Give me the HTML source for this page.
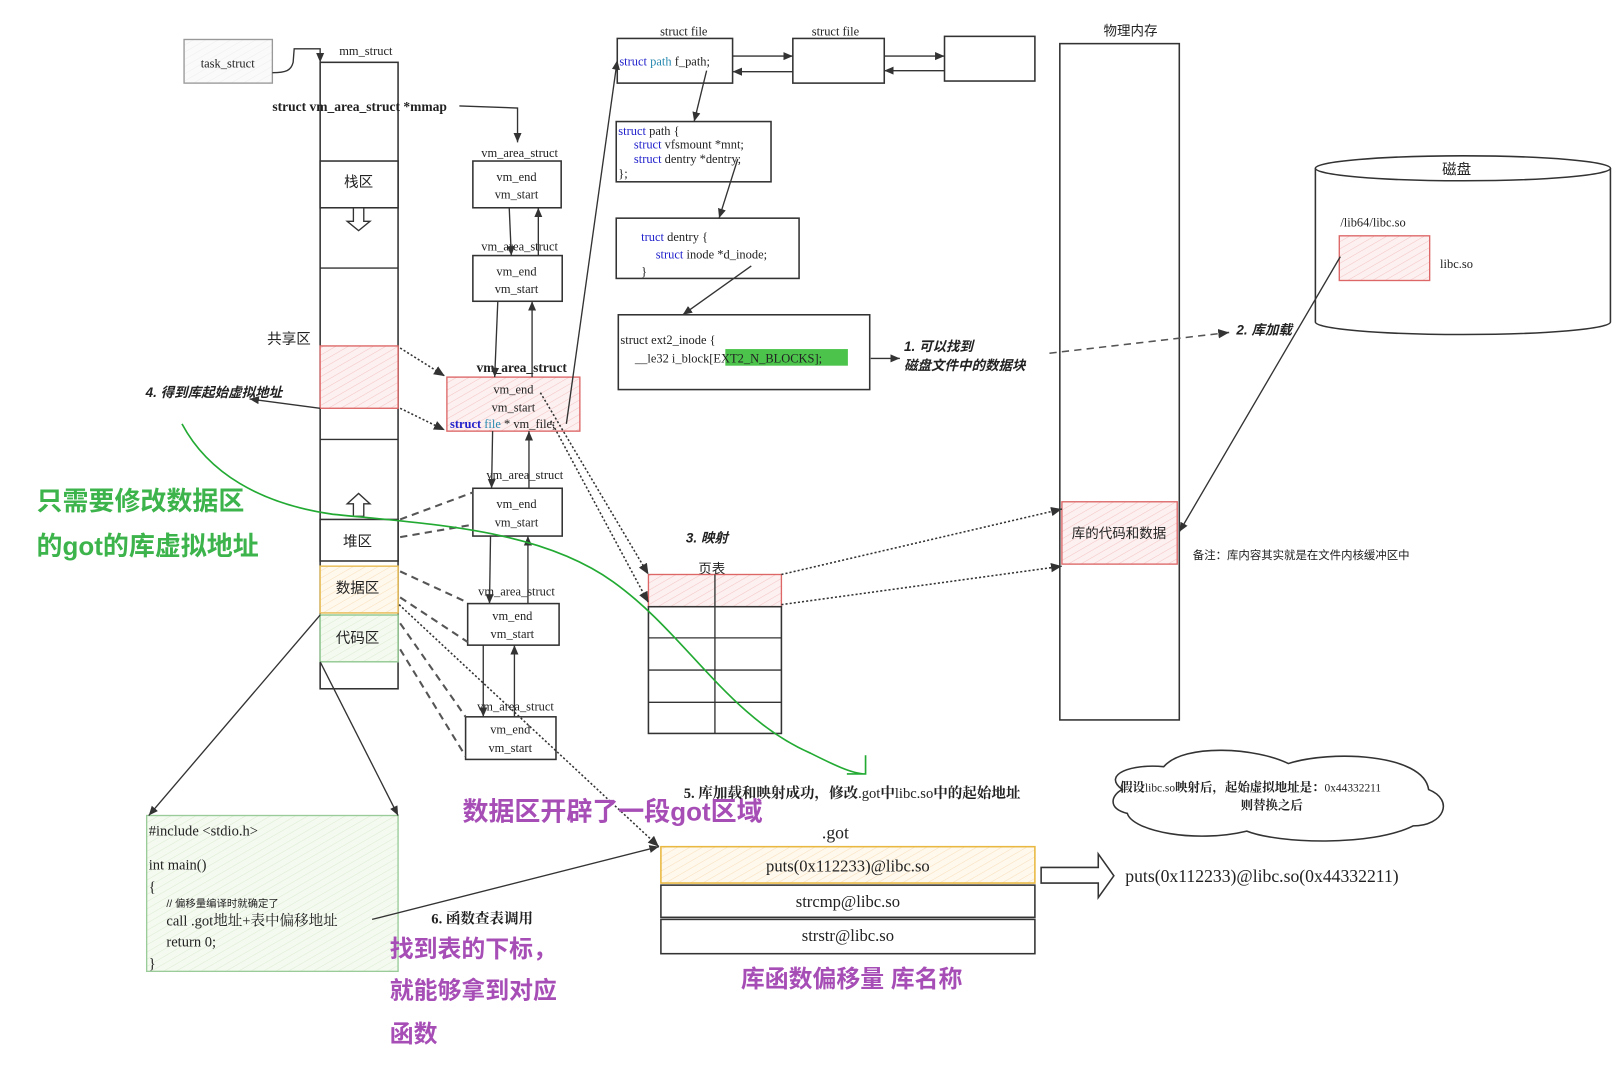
<!DOCTYPE html>
<html><head><meta charset="utf-8"><style>
html,body{margin:0;padding:0;background:#fff;}
svg{display:block}
text{font-family:"Liberation Serif","Noto Serif CJK SC","Noto Sans CJK SC",serif;fill:#222}
.s{font-family:"Liberation Sans","Noto Sans CJK SC",sans-serif}
.b{font-weight:bold}
.i{font-style:italic}
.box{fill:#fff;stroke:#333;stroke-width:1.5}
.ln{stroke:#333;stroke-width:1.3;fill:none}
.dot{stroke:#333;stroke-width:1.5;fill:none;stroke-dasharray:2 2}
.dash{stroke:#555;stroke-width:2;fill:none;stroke-dasharray:7 5}
</style></head><body>
<svg width="1621" height="1069" viewBox="0 0 1560 1029" xmlns="http://www.w3.org/2000/svg">
<defs>
<marker id="a" markerWidth="8" markerHeight="8" refX="7" refY="4" orient="auto"><path d="M0,1 L7,4 L0,7 z" fill="#333"/></marker>
<pattern id="hr" width="6" height="6" patternUnits="userSpaceOnUse" patternTransform="rotate(60)"><rect width="6" height="6" fill="#fdf0f0"/><line x1="0" y1="0" x2="0" y2="6" stroke="#f3c4c4" stroke-width="1"/></pattern>
<pattern id="hy" width="6" height="6" patternUnits="userSpaceOnUse" patternTransform="rotate(60)"><rect width="6" height="6" fill="#fff8ec"/><line x1="0" y1="0" x2="0" y2="6" stroke="#f8e0bc" stroke-width="1"/></pattern>
<pattern id="hg" width="6" height="6" patternUnits="userSpaceOnUse" patternTransform="rotate(60)"><rect width="6" height="6" fill="#f4faf0"/><line x1="0" y1="0" x2="0" y2="6" stroke="#dcebd2" stroke-width="1"/></pattern>
<pattern id="hk" width="6" height="6" patternUnits="userSpaceOnUse" patternTransform="rotate(60)"><rect width="6" height="6" fill="#fafafa"/><line x1="0" y1="0" x2="0" y2="6" stroke="#eee" stroke-width="1"/></pattern>
</defs>

<!-- task_struct -->
<rect x="177" y="38" width="85" height="42" fill="url(#hk)" stroke="#999" stroke-width="1.3"/>
<text x="219" y="65" font-size="12" text-anchor="middle" fill="#555">task_struct</text>
<path class="ln" d="M262,70 C275,70 280,68 282,60 L283,47 L308,47 L308,60" marker-end="url(#a)"/>
<text x="352" y="53" font-size="12" text-anchor="middle">mm_struct</text>

<!-- mm column -->
<rect class="box" x="308" y="60" width="75" height="603"/>
<rect class="box" x="308" y="155" width="75" height="45"/>
<text x="345" y="180" font-size="14" text-anchor="middle" class="s">栈区</text>
<path d="M340,200 L350,200 L350,213 L356,213 L345,222 L334,213 L340,213 z" fill="#fff" stroke="#333" stroke-width="1.3"/>
<line class="ln" x1="308" y1="258" x2="383" y2="258"/>
<text x="278" y="331" font-size="14" text-anchor="middle" class="s">共享区</text>
<rect x="308" y="333" width="75" height="60" fill="url(#hr)" stroke="#d66" stroke-width="1.3"/>
<line class="ln" x1="308" y1="423" x2="383" y2="423"/>
<path d="M340,497 L350,497 L350,485 L356,485 L345,475 L334,485 L340,485 z" fill="#fff" stroke="#333" stroke-width="1.3"/>
<rect class="box" x="308" y="500" width="75" height="40"/>
<text x="344" y="526" font-size="14" text-anchor="middle" class="s">堆区</text>
<rect x="308" y="545" width="75" height="45" fill="url(#hy)" stroke="#e8c060" stroke-width="1.5"/>
<text x="344" y="571" font-size="14" text-anchor="middle" class="s">数据区</text>
<rect x="308" y="592" width="75" height="45" fill="url(#hg)" stroke="#9c9" stroke-width="1.5"/>
<text x="344" y="619" font-size="14" text-anchor="middle" class="s">代码区</text>

<text x="346" y="107" font-size="13" text-anchor="middle" class="b">struct vm_area_struct *mmap</text>
<path class="ln" d="M442,102 L498,104 L498,137" marker-end="url(#a)"/>

<!-- vm_area_struct chain -->
<text x="500" y="151" font-size="12" text-anchor="middle">vm_area_struct</text>
<rect class="box" x="455" y="155" width="85" height="45"/>
<text x="497" y="174" font-size="12" text-anchor="middle">vm_end</text>
<text x="497" y="191" font-size="12" text-anchor="middle">vm_start</text>
<text x="500" y="241" font-size="12" text-anchor="middle">vm_area_struct</text>
<rect class="box" x="455" y="246" width="86" height="44"/>
<text x="497" y="265" font-size="12" text-anchor="middle">vm_end</text>
<text x="497" y="282" font-size="12" text-anchor="middle">vm_start</text>
<line class="ln" x1="490" y1="200" x2="492" y2="246" marker-end="url(#a)"/>
<line class="ln" x1="518" y1="246" x2="518" y2="200" marker-end="url(#a)"/>

<text x="502" y="358" font-size="13" text-anchor="middle" class="b">vm_area_struct</text>
<rect x="430" y="363" width="128" height="52" fill="url(#hr)" stroke="#d66" stroke-width="1.3"/>
<text x="494" y="379" font-size="12" text-anchor="middle">vm_end</text>
<text x="494" y="396" font-size="12" text-anchor="middle">vm_start</text>
<text x="433" y="412" font-size="12"><tspan fill="#22c" font-weight="bold">struct</tspan> <tspan fill="#2a8ab0">file</tspan> * vm_file;</text>
<line class="ln" x1="479" y1="290" x2="476" y2="363" marker-end="url(#a)"/>
<line class="ln" x1="512" y1="363" x2="512" y2="290" marker-end="url(#a)"/>

<text x="505" y="461" font-size="12" text-anchor="middle">vm_area_struct</text>
<rect class="box" x="455" y="470" width="86" height="46"/>
<text x="497" y="489" font-size="12" text-anchor="middle">vm_end</text>
<text x="497" y="507" font-size="12" text-anchor="middle">vm_start</text>
<line class="ln" x1="474" y1="415" x2="473" y2="470" marker-end="url(#a)"/>
<line class="ln" x1="509" y1="470" x2="509" y2="415" marker-end="url(#a)"/>

<text x="497" y="573" font-size="12" text-anchor="middle">vm_area_struct</text>
<rect class="box" x="450" y="581" width="88" height="40"/>
<text x="493" y="597" font-size="12" text-anchor="middle">vm_end</text>
<text x="493" y="614" font-size="12" text-anchor="middle">vm_start</text>
<line class="ln" x1="472" y1="516" x2="471" y2="581" marker-end="url(#a)"/>
<line class="ln" x1="508" y1="581" x2="508" y2="516" marker-end="url(#a)"/>

<text x="496" y="684" font-size="12" text-anchor="middle">vm_area_struct</text>
<rect class="box" x="448" y="690" width="87" height="41"/>
<text x="491" y="706" font-size="12" text-anchor="middle">vm_end</text>
<text x="491" y="724" font-size="12" text-anchor="middle">vm_start</text>
<line class="ln" x1="465" y1="621" x2="465" y2="690" marker-end="url(#a)"/>
<line class="ln" x1="495" y1="690" x2="495" y2="621" marker-end="url(#a)"/>

<!-- dashed mapping lines from column -->
<path class="dot" d="M385,335 L428,362" marker-end="url(#a)"/>
<path class="dot" d="M385,393 L428,414" marker-end="url(#a)"/>
<path class="dash" d="M385,500 L455,474"/>
<path class="dash" d="M385,517 L455,505"/>
<path class="dash" d="M385,550 L450,580"/>
<path class="dash" d="M385,575 L450,618"/>
<path class="dash" d="M385,600 L448,690"/>
<path class="dash" d="M385,625 L448,728"/>

<!-- struct file -->
<text x="658" y="34" font-size="12" text-anchor="middle">struct file</text>
<rect class="box" x="594" y="37" width="111" height="43"/>
<text x="596" y="63" font-size="12"><tspan fill="#22c">struct</tspan> <tspan fill="#2a8ab0">path</tspan> f_path;</text>
<text x="804" y="34" font-size="12" text-anchor="middle">struct file</text>
<rect class="box" x="763" y="37" width="88" height="43"/>
<rect class="box" x="909" y="35" width="87" height="43"/>
<line class="ln" x1="705" y1="54" x2="763" y2="54" marker-end="url(#a)"/>
<line class="ln" x1="763" y1="69" x2="705" y2="69" marker-end="url(#a)"/>
<line class="ln" x1="851" y1="54" x2="909" y2="54" marker-end="url(#a)"/>
<line class="ln" x1="909" y1="68" x2="851" y2="68" marker-end="url(#a)"/>
<line class="ln" x1="545" y1="408" x2="594" y2="58" marker-end="url(#a)"/>

<rect class="box" x="593" y="117" width="149" height="58"/>
<text x="595" y="130" font-size="12"><tspan fill="#22c">struct</tspan> path {</text>
<text x="610" y="143" font-size="12"><tspan fill="#22c">struct</tspan> vfsmount *mnt;</text>
<text x="610" y="157" font-size="12"><tspan fill="#22c">struct</tspan> dentry *dentry;</text>
<text x="595" y="171" font-size="12">};</text>
<line class="ln" x1="680" y1="68" x2="668" y2="117" marker-end="url(#a)"/>

<rect class="box" x="593" y="210" width="176" height="58"/>
<text x="617" y="232" font-size="12"><tspan fill="#22c">truct</tspan> dentry {</text>
<text x="631" y="249" font-size="12"><tspan fill="#22c">struct</tspan> inode *d_inode;</text>
<text x="617" y="265" font-size="12" fill="#3a3">}</text>
<line class="ln" x1="710" y1="153" x2="692" y2="210" marker-end="url(#a)"/>

<rect class="box" x="595" y="303" width="242" height="72"/>
<text x="597" y="331" font-size="12">struct ext2_inode {</text>
<rect x="698" y="336" width="118" height="16" fill="#4cc44c"/>
<text x="611" y="349" font-size="12">__le32  i_block[EXT2_N_BLOCKS];</text>
<line class="ln" x1="723" y1="256" x2="657" y2="303" marker-end="url(#a)"/>

<line class="ln" x1="838" y1="345" x2="866" y2="345" marker-end="url(#a)"/>
<text x="870" y="338" font-size="13" class="s b i">1. 可以找到</text>
<text x="870" y="356" font-size="13" class="s b i">磁盘文件中的数据块</text>

<!-- physical memory -->
<text x="1088" y="34" font-size="13" text-anchor="middle" class="s">物理内存</text>
<rect class="box" x="1020" y="42" width="115" height="651"/>
<rect x="1022" y="483" width="111" height="60" fill="url(#hr)" stroke="#d66" stroke-width="1.3"/>
<text x="1077" y="518" font-size="13" text-anchor="middle" class="s">库的代码和数据</text>
<text x="1148" y="538" font-size="11" class="s">备注：库内容其实就是在文件内核缓冲区中</text>
<path class="dash" style="stroke-width:1.5" d="M1010,340 L1183,320" marker-end="url(#a)"/>
<text x="1190" y="322" font-size="13" class="s b i">2. 库加载</text>

<!-- disk -->
<path d="M1266,162 L1266,310 A142,12 0 0 0 1550,310 L1550,162" fill="#fff" stroke="#333" stroke-width="1.5"/>
<ellipse cx="1408" cy="162" rx="142" ry="12" fill="#fff" stroke="#333" stroke-width="1.5"/>
<text x="1402" y="168" font-size="14" text-anchor="middle" class="s">磁盘</text>
<text x="1290" y="218" font-size="12">/lib64/libc.so</text>
<rect x="1289" y="227" width="87" height="43" fill="url(#hr)" stroke="#d66" stroke-width="1.3"/>
<text x="1386" y="258" font-size="12">libc.so</text>
<line class="ln" x1="1290" y1="247" x2="1135" y2="512" marker-end="url(#a)"/>

<!-- page table -->
<text x="660" y="522" font-size="13" class="s b i">3. 映射</text>
<text x="685" y="552" font-size="13" text-anchor="middle" class="s">页表</text>
<rect x="624" y="553" width="128" height="31" fill="url(#hr)" stroke="#d66" stroke-width="1.3"/>
<rect class="box" x="624" y="584" width="128" height="122" fill="none"/>
<line class="ln" x1="688" y1="553" x2="688" y2="706"/>
<line class="ln" x1="624" y1="614" x2="752" y2="614"/>
<line class="ln" x1="624" y1="645" x2="752" y2="645"/>
<line class="ln" x1="624" y1="676" x2="752" y2="676"/>
<path class="dot" d="M752,553 L1022,490" marker-end="url(#a)"/>
<path class="dot" d="M752,582 L1022,545" marker-end="url(#a)"/>
<path class="dot" d="M520,378 L624,553" marker-end="url(#a)"/>
<path class="dot" d="M530,405 L624,580" marker-end="url(#a)"/>
<path class="dot" d="M384,582 L634,815" marker-end="url(#a)"/>

<!-- green curve -->
<path d="M175,408 C200,455 250,485 320,495 C420,505 520,510 590,560 C660,610 700,690 780,725 C800,735 820,745 833,745 L833,727 M833,745 L815,745" fill="none" stroke="#22aa33" stroke-width="1.6"/>
<text x="35" y="491" font-size="25" class="s b" style="fill:#3cb44b">只需要修改数据区</text>
<text x="35" y="534" font-size="25" class="s b" style="fill:#3cb44b">的got的库虚拟地址</text>

<text x="140" y="382" font-size="13" class="s b i">4. 得到库起始虚拟地址</text>
<line class="ln" x1="308" y1="393" x2="240" y2="384" marker-end="url(#a)"/>

<!-- code box -->
<rect x="141" y="785" width="242" height="150" fill="url(#hg)" stroke="#9c9" stroke-width="1.3"/>
<line class="ln" x1="308" y1="592" x2="143" y2="785" marker-end="url(#a)"/>
<line class="ln" x1="308" y1="637" x2="383" y2="785" marker-end="url(#a)"/>
<text x="143" y="804" font-size="14">#include &lt;stdio.h&gt;</text>
<text x="143" y="837" font-size="14">int main()</text>
<text x="143" y="858" font-size="14">{</text>
<text x="160" y="873" font-size="10" class="s" fill="#555">// 偏移量编译时就确定了</text>
<text x="160" y="891" font-size="14">call .got地址+表中偏移地址</text>
<text x="160" y="911" font-size="14">return 0;</text>
<text x="143" y="932" font-size="14">}</text>
<line class="ln" x1="358" y1="885" x2="634" y2="815" marker-end="url(#a)"/>

<text x="415" y="889" font-size="14" class="b">6. 函数查表调用</text>
<text x="375" y="921" font-size="23" class="s b" style="fill:#a64db6">找到表的下标，</text>
<text x="375" y="961" font-size="23" class="s b" style="fill:#a64db6">就能够拿到对应</text>
<text x="375" y="1003" font-size="23" class="s b" style="fill:#a64db6">函数</text>
<text x="445" y="790" font-size="25" class="s b" style="fill:#a64db6">数据区开辟了一段got区域</text>
<text x="658" y="768" font-size="14" class="b">5. 库加载和映射成功，修改<tspan font-weight="normal">.got</tspan>中<tspan font-weight="normal">libc.so</tspan>中的起始地址</text>

<!-- got table -->
<text x="804" y="807" font-size="17" text-anchor="middle">.got</text>
<rect x="636" y="815" width="360" height="35" fill="url(#hy)" stroke="#e8b840" stroke-width="1.5"/>
<text x="816" y="839" font-size="16" text-anchor="middle">puts(0x112233)@libc.so</text>
<rect class="box" x="636" y="852" width="360" height="31"/>
<text x="816" y="873" font-size="16" text-anchor="middle">strcmp@libc.so</text>
<rect class="box" x="636" y="885" width="360" height="33"/>
<text x="816" y="906" font-size="16" text-anchor="middle">strstr@libc.so</text>
<text x="713" y="950" font-size="23" class="s b" style="fill:#a64db6">库函数偏移量  库名称</text>

<path d="M1002,835 L1057,835 L1057,822 L1072,843 L1057,864 L1057,850 L1002,850 z" fill="#fff" stroke="#333" stroke-width="1.5"/>
<text x="1083" y="849" font-size="17">puts(0x112233)@libc.so(0x44332211)</text>

<!-- cloud -->
<path d="M1080,760 C1060,745 1090,735 1120,738 C1140,715 1210,720 1240,735 C1280,722 1370,725 1375,760 C1400,770 1390,795 1360,795 C1320,815 1230,812 1200,800 C1150,812 1090,800 1085,783 C1065,778 1070,765 1080,760 z" fill="#fff" stroke="#333" stroke-width="1.5"/>
<text x="1078" y="762" font-size="12" class="b">假设<tspan font-weight="normal" font-size="11">libc.so</tspan>映射后，起始虚拟地址是：<tspan font-weight="normal" font-size="11">0x44332211</tspan></text>
<text x="1224" y="779" font-size="12" text-anchor="middle" class="b">则替换之后</text>
</svg>
</body></html>
